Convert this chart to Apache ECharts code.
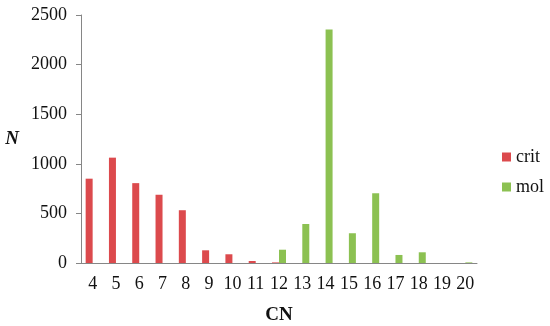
<!DOCTYPE html>
<html>
<head>
<meta charset="utf-8">
<script src="https://cdn.jsdelivr.net/npm/echarts@6/dist/echarts.min.js"></script>
<style>
  html, body { margin: 0; padding: 0; background: #fff; }
  #main { width: 550px; height: 326px; }
</style>
</head>
<body>
<div id="main"></div>
<script>
// data
var categories = ['4', '5', '6', '7', '8', '9', '10', '11', '12', '13', '14', '15', '16', '17', '18', '19', '20'];
var critValues = [850, 1062, 805, 688, 532, 128, 88, 20, 6, 0, 0, 0, 0, 0, 0, 0, 0];
var molValues = [0, 0, 0, 0, 0, 0, 0, 0, 134, 393, 2355, 300, 703, 81, 108, 0, 6];
var yTicks = [0, 500, 1000, 1500, 2000, 2500];

var font = 'Times New Roman, Liberation Serif, DejaVu Serif, serif';
var axisGrey = '#868686';

var myChart = echarts.init(document.getElementById('main'));
myChart.setOption({
    animation: false,
    textStyle: { fontFamily: font },
    grid: { left: 81, right: 73, top: 15, bottom: 63, outerBoundsMode: 'none', containLabel: false },
    legend: {
        data: ['crit', 'mol'],
        orient: 'vertical',
        left: 497,
        top: 143,
        itemWidth: 9,
        itemHeight: 9,
        itemGap: 12,
        icon: 'rect',
        textStyle: { fontFamily: font, fontSize: 18, color: '#111' }
    },
    xAxis: {
        type: 'category',
        data: categories,
        name: 'CN',
        nameLocation: 'middle',
        nameGap: 43,
        nameTextStyle: { fontFamily: font, fontSize: 19, fontWeight: 'bold', color: '#111' },
        axisLine: { lineStyle: { color: axisGrey } },
        axisTick: { alignWithLabel: false, length: 5, lineStyle: { color: axisGrey } },
        axisLabel: { fontFamily: font, fontSize: 18, color: '#111', margin: 12, interval: 0 }
    },
    yAxis: {
        type: 'value',
        min: yTicks[0],
        max: yTicks[yTicks.length - 1],
        interval: 500,
        name: 'N',
        nameLocation: 'middle',
        nameGap: 62,
        nameRotate: 0,
        nameTextStyle: { fontFamily: font, fontSize: 19, fontWeight: 'bold', fontStyle: 'italic', color: '#111' },
        axisLine: { show: true, lineStyle: { color: axisGrey } },
        axisTick: { show: true, length: 5, lineStyle: { color: axisGrey } },
        axisLabel: {
            fontFamily: font, fontSize: 18, color: '#111', margin: 14,
            formatter: function (v) { return String(v); }
        },
        splitLine: { show: false }
    },
    series: [
        {
            name: 'crit',
            type: 'bar',
            data: critValues,
            barWidth: 7,
            barGap: '0%',
            itemStyle: { color: '#dc4a4d' }
        },
        {
            name: 'mol',
            type: 'bar',
            data: molValues,
            barWidth: 7,
            itemStyle: { color: '#8cc152' }
        }
    ]
});
</script>
</body>
</html>
